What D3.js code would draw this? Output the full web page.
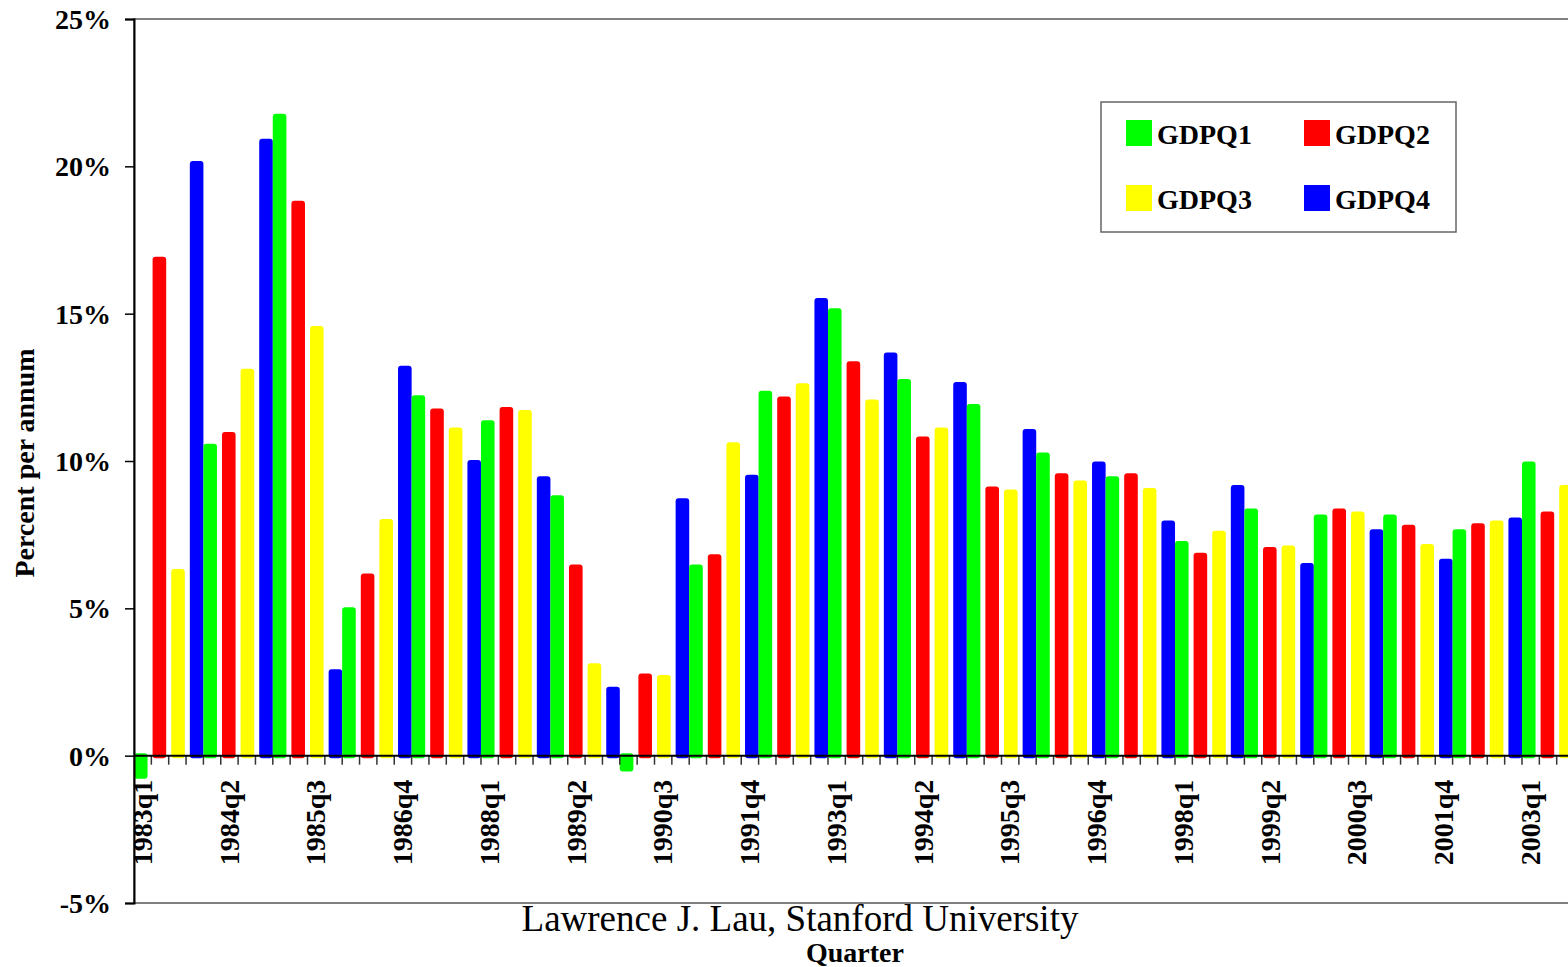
<!DOCTYPE html>
<html>
<head>
<meta charset="utf-8">
<script src="https://cdn.jsdelivr.net/npm/d3@7"></script>
<style>
  body { margin: 0; background: #fff; }
  svg { display: block; font-family: "Liberation Serif", "Times New Roman", serif; }
</style>
</head>
<body>
<svg id="chart"></svg>
<script>
// quarterly growth, percent per annum
const years = [1983, 1984, 1985, 1986, 1987, 1988, 1989, 1990, 1991, 1992, 1993,
               1994, 1995, 1996, 1997, 1998, 1999, 2000, 2001, 2002, 2003];
const gdpq1 = [-0.7, 10.5, 21.7, 4.95, 12.15, 11.3, 8.75, -0.45, 6.4, 12.3, 15.1,
               12.7, 11.85, 10.2, 9.4, 7.2, 8.3, 8.1, 8.1, 7.6, 9.9];
const gdpq2 = [16.85, 10.9, 18.75, 6.1, 11.7, 11.75, 6.4, 2.7, 6.75, 12.1, 13.3,
               10.75, 9.05, 9.5, 9.5, 6.8, 7.0, 8.3, 7.75, 7.8, 8.2];
const gdpq3 = [6.25, 13.05, 14.5, 7.95, 11.05, 11.65, 3.05, 2.65, 10.55, 12.55, 12.0,
               11.05, 8.95, 9.25, 9.0, 7.55, 7.05, 8.2, 7.1, 7.9, 9.1];
const gdpq4 = [20.1, 20.85, 2.85, 13.15, 9.95, 9.4, 2.25, 8.65, 9.45, 15.45, 13.6,
               12.6, 11.0, 9.9, 7.9, 9.1, 6.45, 7.6, 6.6, 8.0];
const seriesNames = ["GDPQ1", "GDPQ2", "GDPQ3", "GDPQ4"];
const seriesColors = ["#00ff00", "#ff0000", "#ffff00", "#0000ff"];
const yTicks = [-5, 0, 5, 10, 15, 20, 25];

const width = 1568, height = 967;
const margin = { top: 19, left: 134, bottom: 64 };
const bandW = 17.35;
const serif = '"Liberation Serif", "Times New Roman", serif';

// flatten into one row per quarter
const rows = [];
const allSeries = [gdpq1, gdpq2, gdpq3, gdpq4];
years.forEach((yr, i) => {
  allSeries.forEach((s, k) => {
    if (s[i] !== undefined) rows.push({ q: yr + "q" + (k + 1), s: k, v: s[i] });
  });
});

const svg = d3.select("#chart").attr("width", width).attr("height", height);

const x = d3.scaleBand()
  .domain(rows.map(d => d.q))
  .range([margin.left, margin.left + bandW * rows.length])
  .padding(0);

const y = d3.scaleLinear()
  .domain([-5, 25])
  .range([height - margin.bottom, margin.top]);

// small offset of each series inside its slot (overlapping clusters)
const off = d3.scalePoint().domain([0, 1, 2, 3]).range([-1.9, 1.9]);
const barW = 13.6, pad = 2.5;

// plot frame
svg.append("rect")
  .attr("x", margin.left)
  .attr("y", y(25))
  .attr("width", bandW * rows.length + 20)
  .attr("height", y(-5) - y(25))
  .attr("fill", "none")
  .attr("stroke", "#808080")
  .attr("stroke-width", 2);

svg.selectAll(".bar")
  .data(rows)
  .enter().append("rect")
  .attr("class", "bar")
  .attr("x", d => x(d.q) + x.bandwidth() / 2 + off(d.s) - barW / 2)
  .attr("y", d => y(Math.max(d.v, 0)) - pad)
  .attr("width", barW)
  .attr("height", d => Math.abs(y(d.v) - y(0)) + pad * 2)
  .attr("rx", 3)
  .attr("fill", d => seriesColors[d.s]);

// y axis
const yAxis = svg.append("g")
  .attr("transform", `translate(${margin.left},0)`)
  .call(d3.axisLeft(y).tickValues(yTicks).tickFormat(d => d + "%").tickSize(9).tickPadding(14))
  .attr("font-family", serif);
yAxis.select(".domain").attr("stroke", "#000").attr("stroke-width", 2);
yAxis.selectAll(".tick line").attr("stroke", "#000").attr("stroke-width", 1.5);
yAxis.selectAll("text")
  .style("font-size", "28px")
  .style("font-weight", "bold")
  .attr("fill", "#000")
  .attr("dy", "0.34em");

// zero line with a tick on every quarter boundary
const x0 = svg.append("g");
x0.selectAll("line.qt")
  .data(rows)
  .enter().append("line")
  .attr("class", "qt")
  .attr("x1", d => x(d.q) + x.bandwidth())
  .attr("x2", d => x(d.q) + x.bandwidth())
  .attr("y1", y(0))
  .attr("y2", y(0) + 9)
  .attr("stroke", "#333")
  .attr("stroke-width", 1.5);
x0.append("line")
  .attr("x1", margin.left)
  .attr("x2", width)
  .attr("y1", y(0))
  .attr("y2", y(0))
  .attr("stroke", "#000")
  .attr("stroke-width", 2);

const xAxis = svg.append("g")
  .attr("transform", `translate(0,${y(0)})`)
  .call(d3.axisBottom(x).tickValues(x.domain().filter((d, i) => i % 5 === 0)).tickSize(0))
  .attr("font-family", serif);
xAxis.select(".domain").remove();
xAxis.selectAll("text")
  .attr("transform", "rotate(-90)")
  .attr("x", -24)
  .attr("y", 0)
  .attr("dy", "0.33em")
  .style("text-anchor", "end")
  .style("font-size", "28px")
  .style("font-weight", "bold")
  .attr("fill", "#000");

// titles
svg.append("text")
  .attr("transform", `translate(34,${(y(25) + y(-5)) / 2 + 2}) rotate(-90)`)
  .attr("text-anchor", "middle")
  .style("font-size", "28px")
  .style("font-weight", "bold")
  .text("Percent per annum");

svg.append("text")
  .attr("x", 800)
  .attr("y", 931)
  .attr("text-anchor", "middle")
  .style("font-size", "37px")
  .text("Lawrence J. Lau, Stanford University");

svg.append("text")
  .attr("x", 855)
  .attr("y", 962)
  .attr("text-anchor", "middle")
  .style("font-size", "28px")
  .style("font-weight", "bold")
  .text("Quarter");

// legend
const legend = svg.append("g").attr("transform", "translate(1101,102)");
legend.append("rect")
  .attr("width", 355)
  .attr("height", 130)
  .attr("fill", "#fff")
  .attr("stroke", "#666")
  .attr("stroke-width", 1.5);
const item = legend.selectAll(".item")
  .data(seriesNames)
  .enter().append("g")
  .attr("class", "item")
  .attr("transform", (d, i) => `translate(${25 + (i % 2) * 178},${18 + Math.floor(i / 2) * 65})`);
item.append("rect")
  .attr("width", 26)
  .attr("height", 26)
  .attr("fill", (d, i) => seriesColors[i]);
item.append("text")
  .attr("x", 31)
  .attr("y", 24)
  .style("font-size", "28px")
  .style("font-weight", "bold")
  .text(d => d);
</script>
</body>
</html>
